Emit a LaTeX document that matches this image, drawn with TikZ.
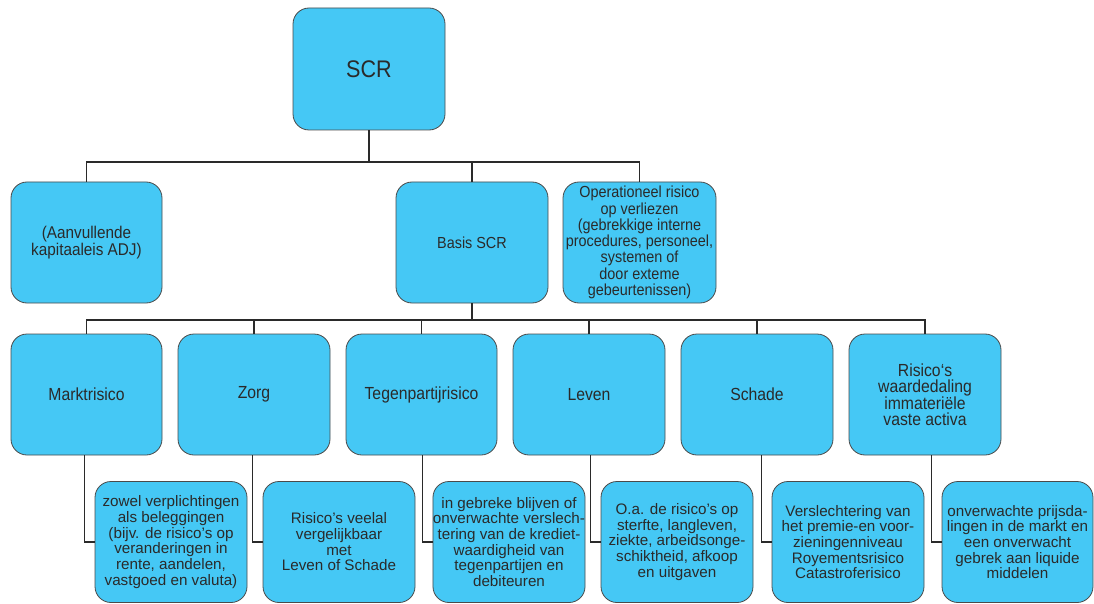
\documentclass[tikz,border=0pt]{standalone}
\usepackage{fontspec}
\setmainfont{Liberation Sans}
\newfontfamily\condfont[FakeStretch=0.9]{Liberation Sans}
\definecolor{boxblue}{HTML}{45C8F5}
\definecolor{ink}{HTML}{2A2A2A}
\begin{document}
\begin{tikzpicture}[x=1pt,y=-1pt,
  box/.style={draw=ink!85, line width=0.8pt, fill=boxblue, rounded corners=16pt,
    minimum width=152pt, minimum height=121pt, inner sep=0pt, align=center, text=ink},
  topbox/.style={box, font=\condfont\fontsize{16}{16.3}\selectfont},
  midbox/.style={box, font=\condfont\fontsize{17.5}{15.8}\selectfont},
  detbox/.style={box, font=\fontsize{15.2}{15.7}\selectfont},
  conn/.style={draw=ink, line width=1.6pt}]
\useasboundingbox (0,0) rectangle (1094,604);

% level 1
\node[box, font=\condfont\fontsize{24}{26}\selectfont, minimum height=122pt] (scr) at (369,69) {SCR};

% level 2
\node[topbox, minimum width=151pt, font=\condfont\fontsize{17}{17}\selectfont] (aan) at (86.5,242.5) {(Aanvullende\\kapitaaleis ADJ)};
\node[topbox] (basis) at (472,242.5) {Basis SCR};
\node[topbox, minimum width=153pt] (op) at (639.5,242.5) {Operationeel risico\\op verliezen\\(gebrekkige interne\\procedures, personeel,\\systemen of\\door exteme\\gebeurtenissen)};

% level 3
\node[midbox, minimum width=151pt] (markt) at (86.5,394.5) {Marktrisico};
\node[midbox] (zorg) at (254,394.5) {Zorg};
\node[midbox, minimum width=151pt] (tegen) at (421.5,394.5) {Tegenpartijrisico};
\node[midbox] (leven) at (589,394.5) {Leven};
\node[midbox] (schade) at (757,394.5) {Schade};
\node[midbox] (immat) at (925,394.5) {Risico‘s\\waardedaling\\immateriële\\vaste activa};

% level 4
\node[detbox] (marktd) at (171,542) {zowel verplichtingen\\als beleggingen\\(bijv. de risico’s op\\veranderingen in\\rente, aandelen,\\vastgoed en valuta)};
\node[detbox] (zorgd) at (339,542) {Risico’s veelal\\vergelijkbaar\\met\\Leven of Schade};
\node[detbox] (tegend) at (509,542) {in gebreke blijven of\\onverwachte verslech-\\tering van de krediet-\\waardigheid van\\tegenpartijen en\\debiteuren};
\node[detbox] (levend) at (677,542) {O.a. de risico’s op\\sterfte, langleven,\\ziekte, arbeidsonge-\\schiktheid, afkoop\\en uitgaven};
\node[detbox] (schaded) at (848,542) {Verslechtering van\\het premie-en voor-\\zieningenniveau\\Royementsrisico\\Catastroferisico};
\node[detbox, minimum width=151pt] (immatd) at (1017.5,542) {onverwachte prijsda-\\lingen in de markt en\\een onverwacht\\gebrek aan liquide\\middelen};

% connectors level 1 -> 2
\coordinate (bus1) at (369,162);
\draw[conn] (scr.south) -- (bus1);
\draw[conn] (aan.north) -- (aan.north |- bus1) -- (op.north |- bus1) -- (op.north);
\draw[conn] (basis.north) -- (basis.north |- bus1);

% connectors level 2 -> 3
\coordinate (bus2) at (472,320);
\draw[conn] (basis.south) -- (bus2);
\draw[conn] (markt.north) -- (markt.north |- bus2) -- (immat.north |- bus2) -- (immat.north);
\foreach \n in {zorg,tegen,leven,schade}
  \draw[conn] (\n.north) -- (\n.north |- bus2);

% connectors level 3 -> 4
\foreach \p/\d in {markt/marktd,zorg/zorgd,tegen/tegend,leven/levend,schade/schaded,immat/immatd}
  \draw[conn] (\d.west) -- ++(-10,0) coordinate (tmp) -- (tmp |- \p.south);
\end{tikzpicture}
\end{document}
